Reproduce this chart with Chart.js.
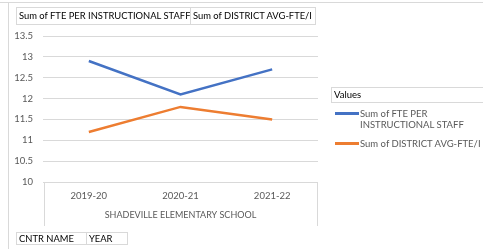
<!DOCTYPE html>
<html>
<head>
<meta charset="utf-8">
<script src="https://cdn.jsdelivr.net/npm/chart.js@4.4.0/dist/chart.umd.min.js"></script>
<style>
    body { margin: 0; background: #fff; font-family: Lato, sans-serif; }
    #wrap { position: relative; width: 483px; height: 249px; overflow: hidden; }
    canvas { position: absolute; left: 0; top: 0; }
    .line-h { position: absolute; left: 0; top: 2px; width: 483px; border-top: 1px solid #d9d9d9; }
    .line-v { position: absolute; left: 8px; top: 2px; height: 247px; border-left: 1px solid #d9d9d9; }
    .btn { position: absolute; box-sizing: border-box; border: 1px solid #d9d9d9; color: #000;
           font-size: 9.4px; white-space: nowrap; padding-left: 2px; overflow: hidden; }
    .leg-line { position: absolute; height: 3px; width: 24px; left: 335px; }
    .leg-text { position: absolute; left: 360px; font-size: 9.5px; line-height: 11px; color: #595959; }
</style>
</head>
<body>
<div id="wrap">
    <canvas id="chart" width="483" height="249"></canvas>
    <div class="line-h"></div>
    <div class="line-v"></div>
    <div class="btn" style="left:16px;top:7px;width:175px;height:18px;line-height:16px;">Sum of FTE PER INSTRUCTIONAL STAFF</div>
    <div class="btn" style="left:190px;top:7px;width:126px;height:18px;line-height:16px;">Sum of DISTRICT AVG-FTE/I</div>
    <div class="btn" style="left:16px;top:232px;width:71px;height:13px;line-height:11px;">CNTR NAME</div>
    <div class="btn" style="left:86px;top:232px;width:42px;height:13px;line-height:11px;">YEAR</div>
    <div class="btn" style="left:331px;top:87px;width:160px;height:16px;line-height:14px;font-size:9.5px;">Values</div>
    <div id="legend"></div>
</div>
<script>
// ========== Data
const years = ['2019-20', '2020-21', '2021-22'];
const fteStaff = [12.9, 12.1, 12.7];
const districtAvg = [11.2, 11.8, 11.5];
const yMin = 10;
const yMax = 13.5;
const yStep = 0.5;
const schoolName = 'SHADEVILLE ELEMENTARY SCHOOL';

let blueColor = '#4472C4';
let orangeColor = '#ED7D31';
let gridColor = '#d9d9d9';
let textColor = '#595959';

// box around the category axis (pivot chart style)
const axisBox = {
    id: 'axisBox',
    afterDraw(chart) {
        const x = chart.scales.x;
        const ctx = chart.ctx;
        ctx.save();
        ctx.strokeStyle = gridColor;
        ctx.lineWidth = 1;
        ctx.beginPath();
        ctx.moveTo(x.left + 1.5, 226);
        ctx.lineTo(x.left + 1.5, x.top + 0.5);
        ctx.lineTo(x.right - 0.5, x.top + 0.5);
        ctx.lineTo(x.right - 0.5, 226);
        ctx.stroke();
        ctx.restore();
    }
};

const datasets = [
    { label: ['Sum of FTE PER', 'INSTRUCTIONAL STAFF'], data: fteStaff, borderColor: blueColor },
    { label: ['Sum of DISTRICT AVG-FTE/I'], data: districtAvg, borderColor: orangeColor }
];

var myChart = new Chart(document.getElementById('chart'), {
    type: 'line',
    data: {
        labels: years,
        datasets: datasets.map(d => ({
            label: d.label.join(' '),
            data: d.data,
            borderColor: d.borderColor,
            backgroundColor: d.borderColor,
            borderWidth: 2.5,
            pointRadius: 0,
            tension: 0
        }))
    },
    options: {
        responsive: false,
        animation: false,
        devicePixelRatio: 1,
        layout: { padding: { left: 0, top: 36, right: 165, bottom: 29 } },
        plugins: { legend: { display: false }, tooltip: { enabled: false } },
        scales: {
            x: {
                offset: true,
                grid: { display: false },
                border: { display: false },
                ticks: { color: textColor, font: { family: 'Lato', size: 9.5 }, padding: 0 },
                title: {
                    display: true,
                    text: schoolName,
                    color: textColor,
                    font: { family: 'Lato', size: 9 },
                    padding: { top: 0, bottom: 0 }
                },
                afterFit(scale) { scale.height = 38; }
            },
            y: {
                min: yMin,
                max: yMax,
                grid: { color: gridColor, drawTicks: false },
                border: { display: false },
                ticks: {
                    stepSize: yStep,
                    color: textColor,
                    font: { family: 'Lato', size: 9.5 },
                    padding: 10,
                    callback: v => String(v)
                },
                afterFit(scale) { scale.width = 43; }
            }
        }
    },
    plugins: [axisBox]
});

// legend on the right
let legendTop = [108, 138];
let legendHtml = '';
datasets.forEach((d, i) => {
    legendHtml += '<div class="leg-line" style="top:' + (legendTop[i] + 4) + 'px;background:' + d.borderColor + '"></div>';
    legendHtml += '<div class="leg-text" style="top:' + legendTop[i] + 'px">' + d.label.join('<br>') + '</div>';
});
document.getElementById('legend').innerHTML = legendHtml;
</script>
</body>
</html>
